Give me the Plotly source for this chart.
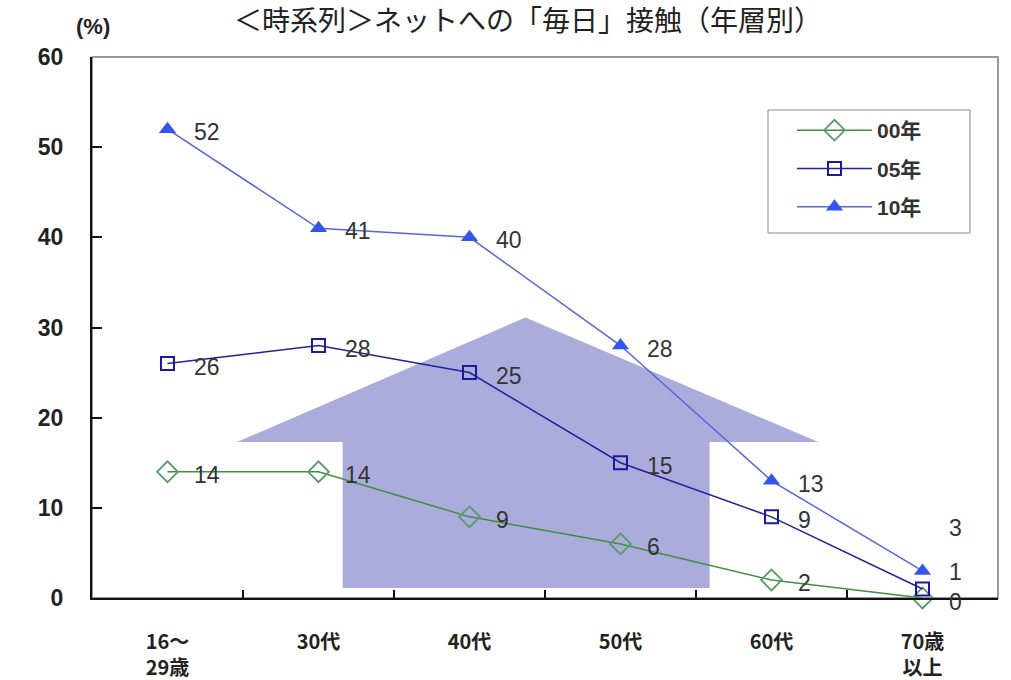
import plotly.graph_objects as go

categories = ["16～<br>29歳", "30代", "40代", "50代", "60代", "70歳<br>以上"]
series_names = ["00年", "05年", "10年"]
values_00 = [14, 14, 9, 6, 2, 0]
values_05 = [26, 28, 25, 15, 9, 1]
values_10 = [52, 41, 40, 28, 13, 3]
y_ticks = [0, 10, 20, 30, 40, 50, 60]

series = [values_00, values_05, values_10]
styles = [
    dict(line=dict(color="#3f8f3f", width=1.5),
         marker=dict(symbol="diamond-open", size=16, color="#5a9a6a", line=dict(width=1.8, color="#5a9a6a"))),
    dict(line=dict(color="#22229a", width=1.5),
         marker=dict(symbol="square-open", size=13, color="#1a1aa0", line=dict(width=2, color="#1a1aa0"))),
    dict(line=dict(color="#5566dd", width=1.5),
         marker=dict(symbol="triangle-up", size=15, color="#3355ee", line=dict(width=0))),
]

PW, PH, L, T = 906, 541, 92, 57


def px(xp):
    return (xp - L) / PW


def py(yp):
    return (T + PH - yp) / PH


fig = go.Figure()

# background arrow (decoration)
fig.add_shape(type="path",
              path="M 1.16,1.1 L 1.16,17.3 L 0.46,17.3 L 2.37,31.1 L 4.31,17.3 L 3.59,17.3 L 3.59,1.1 Z",
              xref="x", yref="y", fillcolor="#ababdc", line=dict(width=0), layer="below")

for i, (name, vals, st) in enumerate(zip(series_names, series, styles)):
    fig.add_trace(go.Scatter(x=categories, y=vals, name=name, mode="lines+markers",
                             line=st["line"], marker=st["marker"], legendgroup=name,
                             cliponaxis=False))

# data labels
special = {(2, 5): 43, (1, 5): 17, (0, 5): -4}
for si, vals in enumerate(series):
    for ci, v in enumerate(vals):
        fig.add_annotation(x=categories[ci], y=v, text=str(v), showarrow=False,
                           xanchor="left", yanchor="middle", xshift=24,
                           yshift=special.get((si, ci), -3),
                           font=dict(family="Liberation Sans, Arial", size=23, color="#333333"))

# frame top/right
fig.add_shape(type="rect", xref="paper", yref="paper", x0=0, x1=1, y0=0, y1=1,
              line=dict(color="#777777", width=1.5), layer="below")
# legend box
fig.add_shape(type="rect", xref="paper", yref="paper", x0=px(768), x1=px(970), y0=py(233), y1=py(110),
              line=dict(color="#888888", width=1), fillcolor="white", layer="below")

fig.add_annotation(text="＜時系列＞ネットへの「毎日」接触（年層別）", xref="paper", yref="paper",
                   x=px(528), y=py(19), xanchor="center", yanchor="middle",
                   showarrow=False, font=dict(family="Noto Sans CJK JP", size=28, color="#222222"))
fig.add_annotation(text="(%)", xref="paper", yref="paper",
                   x=px(93), y=py(27), xanchor="center", yanchor="middle",
                   showarrow=False, font=dict(family="Liberation Sans, Arial", size=22, color="#222222", weight="bold"))

fig.update_layout(
    width=1011, height=680,
    margin=dict(l=L, r=1011 - L - PW, t=T, b=680 - T - PH),
    paper_bgcolor="white", plot_bgcolor="white",
    showlegend=True,
    legend=dict(x=px(792), y=py(110), xanchor="left", yanchor="top",
                borderwidth=0, bgcolor="rgba(0,0,0,0)",
                font=dict(family="Liberation Sans, Noto Sans CJK JP", size=21, color="#333333", weight="bold"),
                itemwidth=75, traceorder="grouped", tracegroupgap=8),
    xaxis=dict(type="category", range=[-0.5, 5.5], showgrid=False, showline=True, automargin=False,
               linecolor="#111111", linewidth=2, ticks="inside", ticklen=8, tickcolor="#111111",
               tickwidth=1.5, tickson="boundaries",
               tickfont=dict(family="Noto Sans CJK JP", size=20, color="#222222", weight="bold"),
               ticklabelstandoff=25),
    yaxis=dict(range=[0, 60], tickvals=y_ticks, showgrid=False, showline=True, zeroline=False, automargin=False,
               linecolor="#111111", linewidth=2, ticks="inside", ticklen=10, tickcolor="#111111",
               tickwidth=1.5,
               tickfont=dict(family="Liberation Sans, Arial", size=23, color="#222222", weight="bold"),
               ticklabelstandoff=22),
)

fig.write_html("out.html", config={"displayModeBar": False},
               post_script="document.body.style.margin='0';document.body.style.padding='0';")
